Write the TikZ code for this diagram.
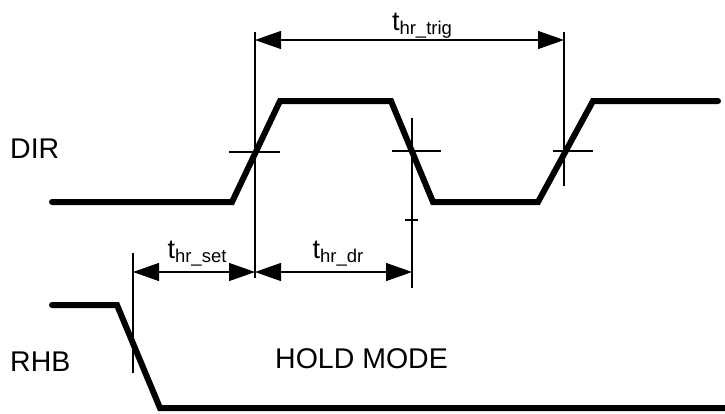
\documentclass[tikz,border=0pt]{standalone}
\usepackage{fontspec}
\setmainfont{Liberation Sans}
\usetikzlibrary{arrows.meta}
\pgfdeclarelayer{bg}
\pgfsetlayers{bg,main}
\tikzset{
  wave/.style={line width=6pt, line cap=round, line join=miter},
  guide/.style={line width=1.3pt},
  dim/.style={line width=1.3pt, {Triangle[length=26pt,width=18pt]}-{Triangle[length=26pt,width=18pt]}},
  sig/.style={font=\fontsize{28.5}{30}\selectfont, inner sep=0pt, anchor=base west},
  tlabel/.style={font=\fontsize{27}{28}\selectfont, inner sep=0pt, anchor=base},
}
\newcommand{\tsub}[1]{t\raisebox{-4pt}{\fontsize{18.5}{19}\selectfont #1}}

\begin{document}
\begin{tikzpicture}[x=1pt, y=-1pt]
        \useasboundingbox (0,0) rectangle (725,413);
        % DIR waveform
        \coordinate (d0) at (52,202);
        \coordinate (d1) at (232,202);
        \coordinate (d2) at (280,101);
        \coordinate (d3) at (391,101);
        \coordinate (d4) at (433,202);
        \coordinate (d5) at (538,202);
        \coordinate (d6) at (593,101);
        \coordinate (d7) at (718,101);
        % RHB waveform
        \coordinate (r0) at (52,305);
        \coordinate (r1) at (117,305);
        \coordinate (r2) at (160,408);
        \coordinate (r3) at (732,408);
        % guide lines
        \coordinate (g1t) at (255,32);
        \coordinate (g1b) at (255,278);
        \coordinate (g2t) at (412,118);
        \coordinate (g2b) at (412,288);
        \coordinate (g3t) at (564,32);
        \coordinate (g3b) at (564,186);
        \coordinate (g4t) at (133,253);
        \coordinate (g4b) at (133,373);
        % crossing ticks
        \coordinate (c1l) at (229,152);
        \coordinate (c1r) at (280,152);
        \coordinate (c2l) at (392,151);
        \coordinate (c2r) at (441,151);
        \coordinate (c3l) at (553,151);
        \coordinate (c3r) at (593,151);
        \coordinate (c4l) at (405,220);
        \coordinate (c4r) at (418,220);
        % arrow ends
        \coordinate (a1l) at (255,40);
        \coordinate (a1r) at (564,40);
        \coordinate (a2l) at (133,272);
        \coordinate (a2m) at (255,272);
        \coordinate (a2r) at (412,272);

        \node (dir) [sig] at (10,158) {DIR};
        \node (rhb) [sig] at (10,371) {RHB};
        \node (hold) [sig] at (275,368) {HOLD MODE};
        \node (ttrig) [tlabel] at (422,30) {\tsub{hr\_trig}};
        \node (tset) [tlabel] at (197,258) {\tsub{hr\_set}};
        \node (tdr) [tlabel] at (338,258) {\tsub{hr\_dr}};

        \draw [wave] (d0) -- (d1) -- (d2) -- (d3) -- (d4) -- (d5) -- (d6) -- (d7);
        \draw [wave] (r0) -- (r1) -- (r2) -- (r3);
        \begin{pgfonlayer}{bg}
                \draw (g1t) edge [guide] (g1b);
                \draw (g2t) edge [guide] (g2b);
                \draw (g3t) edge [guide] (g3b);
                \draw (g4t) edge [guide] (g4b);
                \draw (c1l) edge [guide] (c1r);
                \draw (c2l) edge [guide] (c2r);
                \draw (c3l) edge [guide] (c3r);
                \draw (c4l) edge [guide] (c4r);
                \draw (a1l) edge [dim] (a1r);
                \draw (a2l) edge [dim] (a2m);
                \draw (a2m) edge [dim] (a2r);
        \end{pgfonlayer}
\end{tikzpicture}
\end{document}
